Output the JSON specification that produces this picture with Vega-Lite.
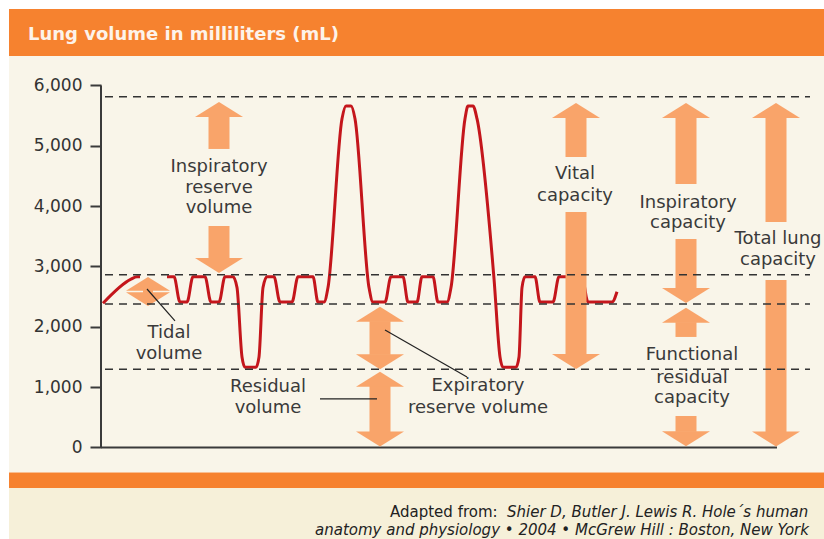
{
  "$schema": "https://vega.github.io/schema/vega-lite/v6.json",
  "width": 824,
  "height": 539,
  "autosize": {"type": "none"},
  "padding": 0,
  "background": "white",
  "config": {"view": {"stroke": null}, "font": "DejaVu Sans"},
  "datasets": {
    "trace": [
      {"seg": 1, "t": 2, "v": 2390}, {"seg": 1, "t": 30, "v": 2790}, {"seg": 1, "t": 36, "v": 2830}, {"seg": 1, "t": 39, "v": 2830},
      {"seg": 2, "t": 66, "v": 2830}, {"seg": 2, "t": 73, "v": 2830},
      {"seg": 2, "t": 79, "v": 2410}, {"seg": 2, "t": 86, "v": 2410}, {"seg": 2, "t": 92, "v": 2830}, {"seg": 2, "t": 104, "v": 2830},
      {"seg": 2, "t": 110, "v": 2410}, {"seg": 2, "t": 118, "v": 2410}, {"seg": 2, "t": 124, "v": 2830}, {"seg": 2, "t": 132, "v": 2830},
      {"seg": 2, "t": 136, "v": 2650}, {"seg": 2, "t": 141, "v": 1500}, {"seg": 2, "t": 144, "v": 1330}, {"seg": 2, "t": 155, "v": 1330},
      {"seg": 2, "t": 158, "v": 1500}, {"seg": 2, "t": 162, "v": 2650}, {"seg": 2, "t": 166, "v": 2830}, {"seg": 2, "t": 173, "v": 2830},
      {"seg": 2, "t": 179, "v": 2410}, {"seg": 2, "t": 191, "v": 2410}, {"seg": 2, "t": 197, "v": 2830}, {"seg": 2, "t": 212, "v": 2830},
      {"seg": 2, "t": 217, "v": 2410}, {"seg": 2, "t": 223, "v": 2410}, {"seg": 2, "t": 227, "v": 2650}, {"seg": 2, "t": 241, "v": 5450},
      {"seg": 2, "t": 245, "v": 5660}, {"seg": 2, "t": 250, "v": 5660}, {"seg": 2, "t": 254, "v": 5450}, {"seg": 2, "t": 268, "v": 2650},
      {"seg": 2, "t": 272, "v": 2410}, {"seg": 2, "t": 284, "v": 2410}, {"seg": 2, "t": 290, "v": 2830}, {"seg": 2, "t": 302, "v": 2830},
      {"seg": 2, "t": 307, "v": 2410}, {"seg": 2, "t": 316, "v": 2410}, {"seg": 2, "t": 321, "v": 2830}, {"seg": 2, "t": 332, "v": 2830},
      {"seg": 2, "t": 337, "v": 2410}, {"seg": 2, "t": 346, "v": 2410}, {"seg": 2, "t": 350, "v": 2650}, {"seg": 2, "t": 364, "v": 5450},
      {"seg": 2, "t": 367, "v": 5660}, {"seg": 2, "t": 372, "v": 5660}, {"seg": 2, "t": 376, "v": 5450}, {"seg": 2, "t": 393, "v": 2800},
      {"seg": 2, "t": 399, "v": 1500}, {"seg": 2, "t": 402, "v": 1330}, {"seg": 2, "t": 415, "v": 1330}, {"seg": 2, "t": 418, "v": 1500},
      {"seg": 2, "t": 421, "v": 2650}, {"seg": 2, "t": 424, "v": 2830}, {"seg": 2, "t": 434, "v": 2830}, {"seg": 2, "t": 439, "v": 2410},
      {"seg": 2, "t": 452, "v": 2410}, {"seg": 2, "t": 458, "v": 2830}, {"seg": 2, "t": 481, "v": 2830}, {"seg": 2, "t": 487, "v": 2410},
      {"seg": 2, "t": 511, "v": 2410}, {"seg": 2, "t": 516, "v": 2580}
    ],
    "levels": [{"v": 5815}, {"v": 2864}, {"v": 2378}, {"v": 1296}],
    "shafts": [
      {"arrow": "IRV", "x": 118, "y1": 5487, "y2": 4948},
      {"arrow": "IRV", "x": 118, "y1": 3671, "y2": 3131},
      {"arrow": "ERV", "x": 279, "y1": 2095, "y2": 1535},
      {"arrow": "RV", "x": 279, "y1": 1017, "y2": 256},
      {"arrow": "VC", "x": 475, "y1": 5471, "y2": 4815},
      {"arrow": "VC", "x": 475, "y1": 3903, "y2": 1539},
      {"arrow": "IC", "x": 585, "y1": 5471, "y2": 4367},
      {"arrow": "IC", "x": 585, "y1": 3456, "y2": 2634},
      {"arrow": "FRC", "x": 585, "y1": 2078, "y2": 1832},
      {"arrow": "FRC", "x": 585, "y1": 522, "y2": 259},
      {"arrow": "TLC", "x": 675, "y1": 5471, "y2": 3737},
      {"arrow": "TLC", "x": 675, "y1": 2776, "y2": 254}
    ],
    "heads": [
      {"arrow": "IRV", "x": 118, "tip": 5726, "dir": "up"},
      {"arrow": "IRV", "x": 118, "tip": 2892, "dir": "down"},
      {"arrow": "TV", "x": 47, "tip": 2826, "dir": "up"},
      {"arrow": "TV", "x": 47, "tip": 2345, "dir": "down"},
      {"arrow": "ERV", "x": 279, "tip": 2334, "dir": "up"},
      {"arrow": "ERV", "x": 279, "tip": 1296, "dir": "down"},
      {"arrow": "RV", "x": 279, "tip": 1256, "dir": "up"},
      {"arrow": "RV", "x": 279, "tip": 17, "dir": "down"},
      {"arrow": "VC", "x": 475, "tip": 5710, "dir": "up"},
      {"arrow": "VC", "x": 475, "tip": 1300, "dir": "down"},
      {"arrow": "IC", "x": 585, "tip": 5710, "dir": "up"},
      {"arrow": "IC", "x": 585, "tip": 2395, "dir": "down"},
      {"arrow": "FRC", "x": 585, "tip": 2317, "dir": "up"},
      {"arrow": "FRC", "x": 585, "tip": 20, "dir": "down"},
      {"arrow": "TLC", "x": 675, "tip": 5710, "dir": "up"},
      {"arrow": "TLC", "x": 675, "tip": 15, "dir": "down"}
    ],
    "labels": [
      {"x": 118, "y": 4649, "text": "Inspiratory"},
      {"x": 118, "y": 4301, "text": "reserve"},
      {"x": 118, "y": 3969, "text": "volume"},
      {"x": 68, "y": 1898, "text": "Tidal"},
      {"x": 68, "y": 1550, "text": "volume"},
      {"x": 167, "y": 997, "text": "Residual"},
      {"x": 167, "y": 655, "text": "volume"},
      {"x": 377, "y": 1019, "text": "Expiratory"},
      {"x": 377, "y": 655, "text": "reserve volume"},
      {"x": 474, "y": 4533, "text": "Vital"},
      {"x": 474, "y": 4168, "text": "capacity"},
      {"x": 587, "y": 4052, "text": "Inspiratory"},
      {"x": 587, "y": 3721, "text": "capacity"},
      {"x": 591, "y": 1533, "text": "Functional"},
      {"x": 591, "y": 1152, "text": "residual"},
      {"x": 591, "y": 820, "text": "capacity"},
      {"x": 677, "y": 3456, "text": "Total lung"},
      {"x": 677, "y": 3108, "text": "capacity"}
    ],
    "leaders": [
      {"x": 46, "y": 2627, "x2": 74, "y2": 2097},
      {"x": 284, "y": 1947, "x2": 366, "y2": 1168},
      {"x": 219, "y": 804, "x2": 276, "y2": 804}
    ]
  },
  "layer": [
    {
      "data": {"values": [{}]},
      "mark": {"type": "rect", "color": "#f9f5e9"},
      "encoding": {
        "x": {"datum": -92, "type": "quantitative", "scale": {"domain": [-101, 723], "nice": false, "zero": false}, "axis": null},
        "x2": {"datum": 723},
        "y": {"datum": -414, "type": "quantitative", "scale": {"domain": [-1517, 7417], "nice": false, "zero": false}},
        "y2": {"datum": 7268}
      }
    },
    {
      "data": {"values": [{}]},
      "mark": {"type": "rect", "color": "#f6f0d9"},
      "encoding": {
        "x": {"datum": -92, "type": "quantitative", "axis": null},
        "x2": {"datum": 723},
        "y": {"datum": -1517, "type": "quantitative"},
        "y2": {"datum": -671}
      }
    },
    {
      "data": {"values": [{}]},
      "mark": {"type": "rect", "color": "#f6822f"},
      "encoding": {
        "x": {"datum": -92, "type": "quantitative", "axis": null},
        "x2": {"datum": 723},
        "y": {"datum": -671, "type": "quantitative"},
        "y2": {"datum": -414}
      }
    },
    {
      "data": {"values": [{}]},
      "mark": {"type": "rect", "color": "#f6822f"},
      "encoding": {
        "x": {"datum": -92, "type": "quantitative", "axis": null},
        "x2": {"datum": 723},
        "y": {"datum": 6489, "type": "quantitative"},
        "y2": {"datum": 7268}
      }
    },
    {
      "data": {"values": [{"t": "Lung volume in milliliters (mL)"}]},
      "mark": {"type": "text", "align": "left", "baseline": "middle", "font": "DejaVu Sans", "fontWeight": "bold", "fontSize": 18, "color": "#fdf3ea"},
      "encoding": {
        "x": {"datum": -73, "type": "quantitative", "axis": null},
        "y": {"datum": 6837, "type": "quantitative"},
        "text": {"field": "t"}
      }
    },
    {
      "data": {"values": [{}]},
      "mark": {"type": "rule", "color": "#3a3a3a", "strokeWidth": 2},
      "encoding": {
        "x": {"datum": 0, "type": "quantitative", "axis": null},
        "y": {"datum": 0, "type": "quantitative"},
        "y2": {"datum": 6000}
      }
    },
    {
      "data": {"values": [{}]},
      "mark": {"type": "rule", "color": "#3a3a3a", "strokeWidth": 2},
      "encoding": {
        "x": {"datum": 0, "type": "quantitative", "axis": null},
        "x2": {"datum": 676},
        "y": {"datum": 0, "type": "quantitative"}
      }
    },
    {
      "data": {"name": "trace"},
      "mark": {"type": "line", "color": "#c4161c", "strokeWidth": 3, "interpolate": "monotone"},
      "encoding": {
        "x": {"field": "t", "type": "quantitative", "axis": null},
        "y": {"field": "v", "type": "quantitative", "axis": {"orient": "left", "values": [0, 1000, 2000, 3000, 4000, 5000, 6000], "labelExpr": "format(datum.value, ',')", "offset": -101, "domain": false, "grid": false, "title": null, "ticks": true, "tickSize": 11, "tickWidth": 2, "tickColor": "#3a3a3a", "labels": true, "labelFont": "DejaVu Sans", "labelFontSize": 17, "labelColor": "#333333", "labelPadding": 8, "zindex": 1}},
        "detail": {"field": "seg", "type": "nominal"}
      }
    },
    {
      "data": {"name": "shafts"},
      "mark": {"type": "rule", "color": "#f9a46a", "strokeWidth": 21, "strokeCap": "butt"},
      "encoding": {
        "x": {"field": "x", "type": "quantitative", "axis": null},
        "y": {"field": "y1", "type": "quantitative"},
        "y2": {"field": "y2"}
      }
    },
    {
      "data": {"values": [{"x": 47, "y1": 2615, "y2": 2555}]},
      "mark": {"type": "rule", "color": "#f9a46a", "strokeWidth": 10, "strokeCap": "butt"},
      "encoding": {
        "x": {"field": "x", "type": "quantitative", "axis": null},
        "y": {"field": "y1", "type": "quantitative"},
        "y2": {"field": "y2"}
      }
    },
    {
      "data": {"name": "heads"},
      "mark": {"type": "point", "filled": true, "opacity": 1, "color": "#f9a46a", "strokeWidth": 0},
      "encoding": {
        "x": {"field": "x", "type": "quantitative", "axis": null},
        "y": {"field": "tip", "type": "quantitative"},
        "shape": {"field": "dir", "type": "nominal", "scale": {"domain": ["up", "down"], "range": ["M 0 0 L 1 0.625 L -1 0.625 Z", "M 0 0 L 1 -0.625 L -1 -0.625 Z"]}, "legend": null},
        "size": {"condition": {"test": "datum.arrow === 'TV'", "value": 1936}, "value": 2304}
      }
    },
    {
      "data": {"name": "levels"},
      "mark": {"type": "rule", "color": "#333333", "strokeWidth": 1.5, "strokeDash": [8, 6]},
      "encoding": {
        "x": {"datum": 4, "type": "quantitative", "axis": null},
        "x2": {"datum": 709},
        "y": {"field": "v", "type": "quantitative"}
      }
    },
    {
      "data": {"name": "leaders"},
      "mark": {"type": "rule", "color": "#222222", "strokeWidth": 1.2},
      "encoding": {
        "x": {"field": "x", "type": "quantitative", "axis": null},
        "x2": {"field": "x2"},
        "y": {"field": "y", "type": "quantitative"},
        "y2": {"field": "y2"}
      }
    },
    {
      "data": {"name": "labels"},
      "mark": {"type": "text", "align": "center", "baseline": "middle", "font": "DejaVu Sans", "fontSize": 18, "color": "#3a3a3a"},
      "encoding": {
        "x": {"field": "x", "type": "quantitative", "axis": null},
        "y": {"field": "y", "type": "quantitative"},
        "text": {"field": "text"}
      }
    },
    {
      "data": {"values": [{"x": 289, "y": -1069, "text": "Adapted from:"}]},
      "mark": {"type": "text", "align": "left", "baseline": "middle", "font": "DejaVu Sans", "fontSize": 15, "color": "#222222"},
      "encoding": {
        "x": {"field": "x", "type": "quantitative", "axis": null},
        "y": {"field": "y", "type": "quantitative"},
        "text": {"field": "text"}
      }
    },
    {
      "data": {"values": [
        {"x": 406, "y": -1069, "text": "Shier D, Butler J. Lewis R. Hole´s human"},
        {"x": 214, "y": -1368, "text": "anatomy and physiology • 2004 • McGrew Hill : Boston, New York"}
      ]},
      "mark": {"type": "text", "align": "left", "baseline": "middle", "font": "DejaVu Sans", "fontStyle": "italic", "fontSize": 15, "color": "#222222"},
      "encoding": {
        "x": {"field": "x", "type": "quantitative", "axis": null},
        "y": {"field": "y", "type": "quantitative"},
        "text": {"field": "text"}
      }
    }
  ]
}
